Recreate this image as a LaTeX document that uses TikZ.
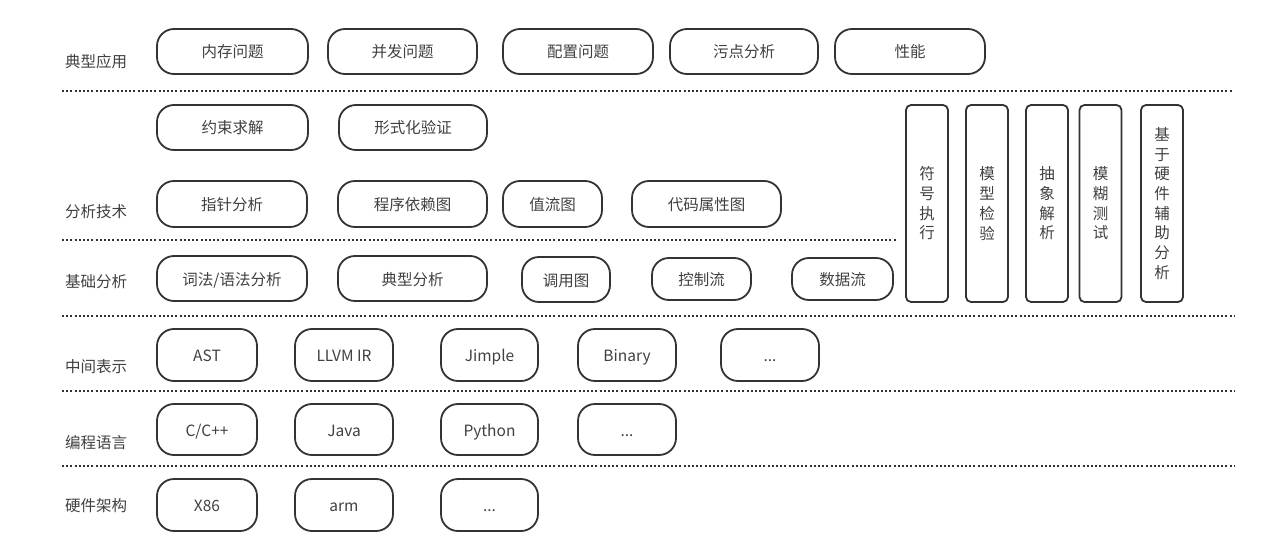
\documentclass[tikz,border=0pt]{standalone}
\usepackage{fontspec}
\setmainfont{Noto Sans CJK SC}
\begin{document}
\begin{tikzpicture}[x=1pt,y=-1pt,
  pill/.style={draw=black!80, line width=1.8pt, rounded corners=17pt, text=black!75, font=\fontsize{15.5}{17}\selectfont, inner sep=0pt, text height=13pt, text depth=0pt},
  vbox/.style={draw=black!80, line width=1.8pt, rounded corners=5pt, text=black!75, font=\fontsize{15.5}{19.7}\selectfont, align=center, inner sep=0pt, minimum width=42pt, minimum height=197pt},
  rowlabel/.style={anchor=west, text=black!75, font=\fontsize{15.5}{17}\selectfont, inner sep=0pt},
  sep/.style={draw=black!80, line width=2pt, dash pattern=on 2pt off 2.2pt}
]
\useasboundingbox (0,0) rectangle (1287,556);
% row labels
\node[rowlabel] (L1) at (65,62) {典型应用};
\node[rowlabel] (L2) at (65,212) {分析技术};
\node[rowlabel] (L3) at (65,282) {基础分析};
\node[rowlabel] (L4) at (65,367) {中间表示};
\node[rowlabel] (L5) at (65,443) {编程语言};
\node[rowlabel] (L6) at (65,506) {硬件架构};
% separators
\coordinate (s1a) at (62,91);   \coordinate (s1b) at (1232,91);
\coordinate (s2a) at (62,240);  \coordinate (s2b) at (897,240);
\coordinate (s3a) at (62,315.5);\coordinate (s3b) at (1235,315.5);
\coordinate (s4a) at (62,391);  \coordinate (s4b) at (1235,391);
\coordinate (s5a) at (62,466);  \coordinate (s5b) at (1235,466);
\draw[sep] (s1a) -- (s1b);
\draw[sep] (s2a) -- (s2b);
\draw[sep] (s3a) -- (s3b);
\draw[sep] (s4a) -- (s4b);
\draw[sep] (s5a) -- (s5b);
% row 1
\node[pill, minimum width=151pt, minimum height=45pt] (m1) at (232.5,51.5) {内存问题};
\node[pill, minimum width=149pt, minimum height=45pt] (m2) at (402.5,51.5) {并发问题};
\node[pill, minimum width=150pt, minimum height=45pt] (m3) at (578,51.5) {配置问题};
\node[pill, minimum width=148pt, minimum height=45pt] (m4) at (744,51.5) {污点分析};
\node[pill, minimum width=150pt, minimum height=45pt] (m5) at (910,51.5) {性能};
% row 2
\node[pill, minimum width=151pt, minimum height=45pt] (t1) at (232.5,127.5) {约束求解};
\node[pill, minimum width=148pt, minimum height=45pt] (t2) at (413,127.5) {形式化验证};
% row 3
\node[pill, minimum width=150pt, minimum height=46pt] (t3) at (232,204) {指针分析};
\node[pill, minimum width=149pt, minimum height=46pt] (t4) at (412.5,204) {程序依赖图};
\node[pill, minimum width=99pt, minimum height=46pt] (t5) at (552.5,204) {值流图};
\node[pill, minimum width=149pt, minimum height=46pt] (t6) at (706.5,204) {代码属性图};
% row 4
\node[pill, minimum width=150pt, minimum height=45pt] (b1) at (232,278.5) {词法/语法分析};
\node[pill, minimum width=149pt, minimum height=45pt] (b2) at (412.5,278.5) {典型分析};
\node[pill, minimum width=88pt, minimum height=45pt] (b3) at (566,279.5) {调用图};
\node[pill, minimum width=99pt, minimum height=42pt] (b4) at (701.5,279) {控制流};
\node[pill, minimum width=101pt, minimum height=42pt] (b5) at (842.5,279) {数据流};
% vertical boxes
\node[vbox] (v1) at (927,203.5) {符\\号\\执\\行};
\node[vbox] (v2) at (987,203.5) {模\\型\\检\\验};
\node[vbox] (v3) at (1047,203.5) {抽\\象\\解\\析};
\node[vbox] (v4) at (1100.5,203.5) {模\\糊\\测\\试};
\node[vbox] (v5) at (1162,203.5) {基\\于\\硬\\件\\辅\\助\\分\\析};
% row 5
\node[pill, minimum width=100pt, minimum height=52pt] (i1) at (207,355) {AST};
\node[pill, minimum width=98pt, minimum height=52pt] (i2) at (344,355) {LLVM IR};
\node[pill, minimum width=97pt, minimum height=52pt] (i3) at (489.5,355) {Jimple};
\node[pill, minimum width=98pt, minimum height=52pt] (i4) at (627,355) {Binary};
\node[pill, minimum width=98pt, minimum height=52pt] (i5) at (770,355) {...};
% row 6
\node[pill, minimum width=100pt, minimum height=51pt] (l1) at (207,429.5) {C/C++};
\node[pill, minimum width=98pt, minimum height=51pt] (l2) at (344,429.5) {Java};
\node[pill, minimum width=97pt, minimum height=51pt] (l3) at (489.5,429.5) {Python};
\node[pill, minimum width=98pt, minimum height=51pt] (l4) at (627,429.5) {...};
% row 7
\node[pill, minimum width=100pt, minimum height=52pt] (h1) at (207,505) {X86};
\node[pill, minimum width=98pt, minimum height=52pt] (h2) at (344,505) {arm};
\node[pill, minimum width=97pt, minimum height=52pt] (h3) at (489.5,505) {...};
\end{tikzpicture}
\end{document}
